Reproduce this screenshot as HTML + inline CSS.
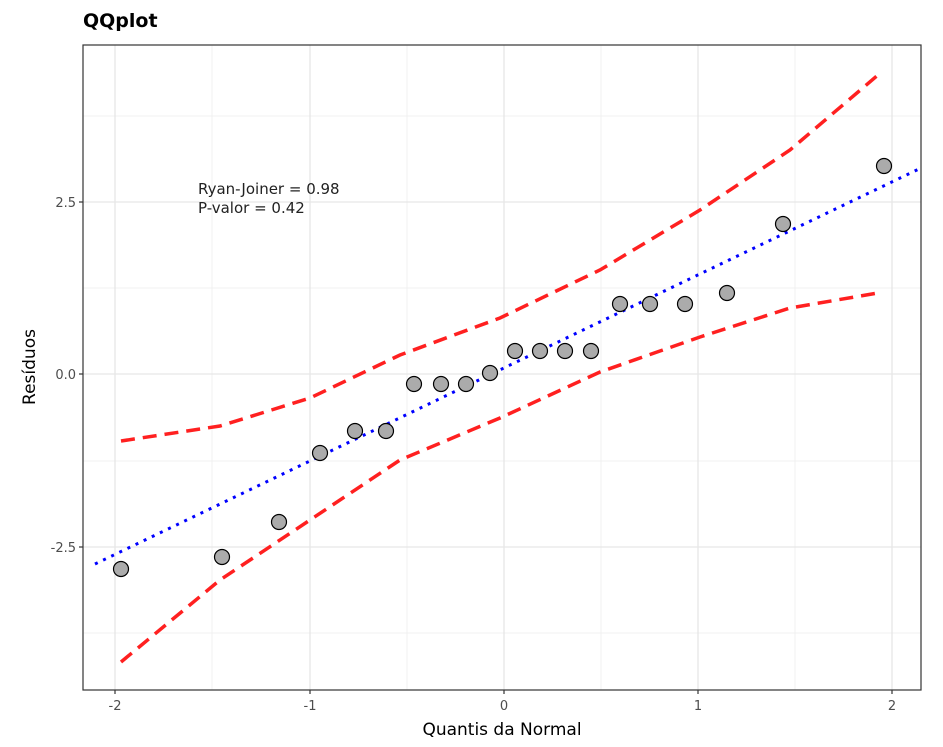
<!DOCTYPE html>
<html><head><meta charset="utf-8"><style>
body{margin:0;background:#fff;}
svg text{font-family:"DejaVu Sans","Liberation Sans",sans-serif;}
</style></head><body>
<svg width="943" height="742" xmlns="http://www.w3.org/2000/svg">
<rect width="943" height="742" fill="#fff"/>
<text x="83" y="27" font-size="19" font-weight="bold" fill="#000">QQplot</text>
<g stroke="#f0f0f0" stroke-width="1">
<line x1="83" x2="921" y1="116" y2="116"/><line x1="83" x2="921" y1="288" y2="288"/>
<line x1="83" x2="921" y1="461" y2="461"/><line x1="83" x2="921" y1="633" y2="633"/>
<line y1="45" y2="690" x1="212" x2="212"/><line y1="45" y2="690" x1="407" x2="407"/>
<line y1="45" y2="690" x1="601" x2="601"/><line y1="45" y2="690" x1="795" x2="795"/>
</g>
<g stroke="#e6e6e6" stroke-width="1.3">
<line x1="83" x2="921" y1="202" y2="202"/><line x1="83" x2="921" y1="374" y2="374"/><line x1="83" x2="921" y1="547" y2="547"/>
<line y1="45" y2="690" x1="115" x2="115"/><line y1="45" y2="690" x1="310" x2="310"/><line y1="45" y2="690" x1="504" x2="504"/><line y1="45" y2="690" x1="698" x2="698"/><line y1="45" y2="690" x1="892" x2="892"/>
</g>
<polyline fill="none" stroke="#ff2020" stroke-width="3.5" stroke-dasharray="14,8" points="121,441 220,426 310,398 400,355 500,318 600,270 700,210 790,150 878,75"/>
<polyline fill="none" stroke="#ff2020" stroke-width="3.5" stroke-dasharray="14,8" points="121,662 220,580 310,520 400,460 500,418 600,372 700,337 790,308 878,293"/>
<line x1="95" y1="564" x2="921" y2="168" stroke="#0000ff" stroke-width="3" stroke-dasharray="3,6"/>
<g fill="#ababab" stroke="#000" stroke-width="1.2">
<circle cx="121" cy="569" r="7.5"/><circle cx="222" cy="557" r="7.5"/><circle cx="279" cy="522" r="7.5"/><circle cx="320" cy="453" r="7.5"/><circle cx="355" cy="431" r="7.5"/><circle cx="386" cy="431" r="7.5"/><circle cx="414" cy="384" r="7.5"/><circle cx="441" cy="384" r="7.5"/><circle cx="466" cy="384" r="7.5"/><circle cx="490" cy="373" r="7.5"/><circle cx="515" cy="351" r="7.5"/><circle cx="540" cy="351" r="7.5"/><circle cx="565" cy="351" r="7.5"/><circle cx="591" cy="351" r="7.5"/><circle cx="620" cy="304" r="7.5"/><circle cx="650" cy="304" r="7.5"/><circle cx="685" cy="304" r="7.5"/><circle cx="727" cy="293" r="7.5"/><circle cx="783" cy="224" r="7.5"/><circle cx="884" cy="166" r="7.5"/>
</g>
<text x="198" y="194" font-size="15" fill="#222">Ryan-Joiner = 0.98</text>
<text x="198" y="213" font-size="15" fill="#222">P-valor = 0.42</text>
<rect x="83" y="45" width="838" height="645" fill="none" stroke="#333" stroke-width="1.2"/>
<g stroke="#333" stroke-width="1.2">
<line x1="79" x2="83" y1="202" y2="202"/><line x1="79" x2="83" y1="374" y2="374"/><line x1="79" x2="83" y1="547" y2="547"/>
<line y1="690" y2="694" x1="115" x2="115"/><line y1="690" y2="694" x1="310" x2="310"/><line y1="690" y2="694" x1="504" x2="504"/><line y1="690" y2="694" x1="698" x2="698"/><line y1="690" y2="694" x1="892" x2="892"/>
</g>
<g font-size="13" fill="#4d4d4d" text-anchor="end">
<text x="76" y="207">2.5</text><text x="76" y="379">0.0</text><text x="76" y="552">-2.5</text>
</g>
<g font-size="13" fill="#4d4d4d" text-anchor="middle">
<text x="115" y="710">-2</text><text x="310" y="710">-1</text><text x="504" y="710">0</text><text x="698" y="710">1</text><text x="892" y="710">2</text>
</g>
<text x="502" y="735" font-size="17" text-anchor="middle" fill="#000">Quantis da Normal</text>
<text transform="translate(35,367) rotate(-90)" font-size="17" text-anchor="middle" fill="#000">Resíduos</text>
</svg>
</body></html>
